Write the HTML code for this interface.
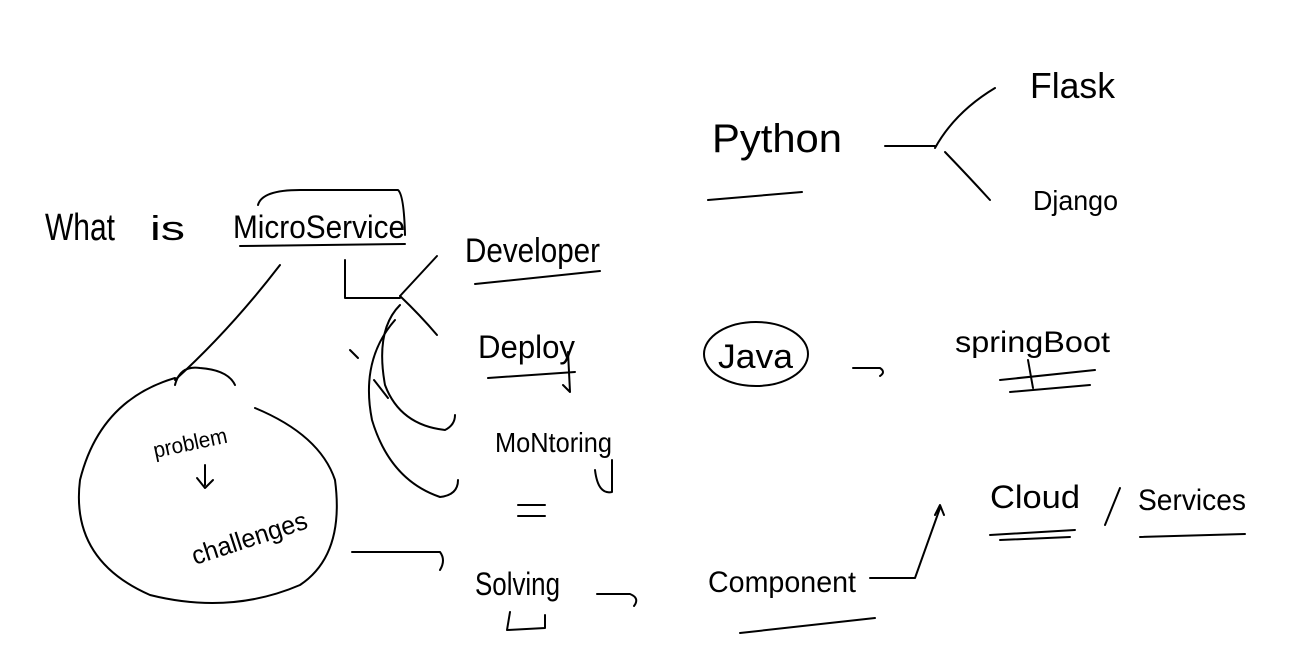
<!DOCTYPE html>
<html><head><meta charset="utf-8"><style>
html,body{margin:0;padding:0;background:#fff;}
svg{display:block}
text{font-family:"Liberation Sans",sans-serif;fill:#000;font-weight:normal}
path,line,ellipse{fill:none;stroke:#000;stroke-width:2;stroke-linecap:round;stroke-linejoin:round}
</style></head><body>
<svg width="1294" height="672" viewBox="0 0 1294 672" xmlns="http://www.w3.org/2000/svg">
<!-- What is MicroService -->
<text x="45" y="240" font-size="38" textLength="70" lengthAdjust="spacingAndGlyphs">What</text>
<text x="150" y="240" font-size="34" textLength="35" lengthAdjust="spacingAndGlyphs">is</text>
<text x="233" y="238" font-size="32" textLength="172" lengthAdjust="spacingAndGlyphs">MicroService</text>
<path d="M258,205 Q262,190 300,190 L398,190 Q404,195 405,235"/>
<path d="M240,246 L405,244"/>
<!-- branch -->
<path d="M345,260 L345,298 L400,298"/>
<path d="M400,296 L437,256"/>
<path d="M400,296 Q420,315 437,335"/>
<text x="465" y="262" font-size="34" textLength="135" lengthAdjust="spacingAndGlyphs">Developer</text>
<path d="M475,284 L600,271"/>
<text x="478" y="358" font-size="32" textLength="97" lengthAdjust="spacingAndGlyphs">Deploy</text>
<path d="M488,378 L575,372"/>
<path d="M568,352 L570,392 L563,385"/>
<text x="495" y="452" font-size="28" textLength="117" lengthAdjust="spacingAndGlyphs">MoNtoring</text>
<path d="M595,470 Q598,495 612,492 L612,460"/>
<path d="M518,505 L545,505 M518,516 L545,516"/>
<text x="475" y="595" font-size="32" textLength="85" lengthAdjust="spacingAndGlyphs">Solving</text>
<path d="M510,612 L507,630 L545,628 L545,615"/>
<!-- curves left of list -->
<path d="M400,305 Q375,330 385,385 Q400,425 445,430 Q455,425 455,415"/>
<path d="M395,320 Q360,360 372,420 Q390,480 440,497 Q458,495 458,480"/>
<path d="M350,350 L358,358"/>
<path d="M374,380 L388,398"/>
<!-- circle -->
<path d="M280,265 Q230,330 175,380"/>
<path d="M175,385 Q180,365 200,368 Q228,370 235,385"/>
<path d="M175,378 Q100,400 80,480 Q70,560 150,595 Q230,615 300,585 Q345,555 335,480 Q320,435 255,408"/>
<text x="155" y="458" font-size="22" transform="rotate(-12 155 458)" textLength="75" lengthAdjust="spacingAndGlyphs">problem</text>
<path d="M205,465 L205,485 M197,478 L205,488 L213,480"/>
<text x="195" y="565" font-size="26" transform="rotate(-18 195 565)" textLength="120" lengthAdjust="spacingAndGlyphs">challenges</text>
<path d="M352,552 L440,552 Q446,560 440,570"/>
<path d="M597,594 L630,594 Q640,598 634,606"/>
<text x="708" y="592" font-size="30" textLength="148" lengthAdjust="spacingAndGlyphs">Component</text>
<path d="M740,633 L875,618"/>
<path d="M870,578 L915,578 L940,508 M935,515 L940,505 L944,515"/>
<text x="990" y="508" font-size="32" textLength="90" lengthAdjust="spacingAndGlyphs">Cloud</text>
<path d="M1105,525 L1120,488"/>
<text x="1138" y="510" font-size="30" textLength="108" lengthAdjust="spacingAndGlyphs">Services</text>
<path d="M990,535 L1075,530 M1000,540 L1070,537 M1140,537 L1245,534"/>
<!-- Python -->
<text x="712" y="152" font-size="40" textLength="130" lengthAdjust="spacingAndGlyphs">Python</text>
<path d="M708,200 L802,192"/>
<path d="M885,146 L935,146"/>
<path d="M935,148 Q955,112 995,88"/>
<path d="M945,152 Q970,178 990,200"/>
<text x="1030" y="98" font-size="36" textLength="85" lengthAdjust="spacingAndGlyphs">Flask</text>
<text x="1033" y="210" font-size="28" textLength="85" lengthAdjust="spacingAndGlyphs">Django</text>
<!-- Java -->
<ellipse cx="756" cy="354" rx="52" ry="32"/>
<text x="718" y="368" font-size="34" textLength="75" lengthAdjust="spacingAndGlyphs">Java</text>
<path d="M853,368 L880,368 Q886,372 880,376"/>
<text x="955" y="352" font-size="30" textLength="155" lengthAdjust="spacingAndGlyphs">springBoot</text>
<path d="M1000,380 L1095,370 M1010,392 L1090,385 M1028,360 L1033,388"/>
</svg>
</body></html>
